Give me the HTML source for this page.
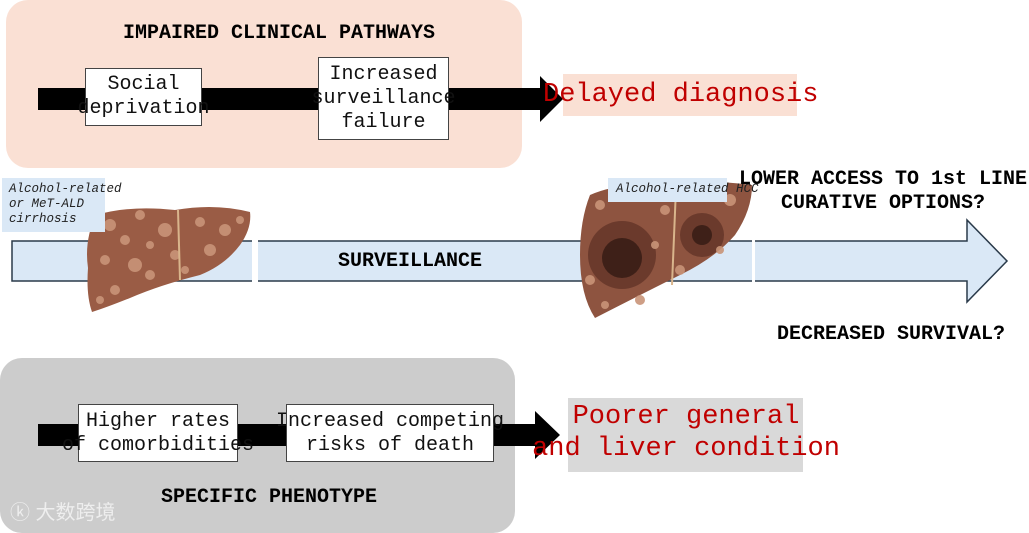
<!DOCTYPE html>
<html><head><meta charset="utf-8"><style>
body{margin:0;width:1029px;height:528px;background:#fff;position:relative;overflow:hidden;font-family:"Liberation Mono",monospace;}
.a{position:absolute;}
.box{position:absolute;background:#fff;border:1px solid #444;box-sizing:border-box;font-size:20px;line-height:24px;color:#111;white-space:nowrap;}
.box div{position:absolute;left:0;right:0;text-align:center;overflow:visible;}
.t{position:absolute;font-weight:bold;font-size:20px;color:#000;white-space:nowrap;}
</style></head><body>
<div class="a" style="left:6px;top:0;width:516px;height:168px;background:#fae0d4;border-radius:22px;"></div>
<div class="a" style="left:0;top:358px;width:515px;height:175px;background:#cccccc;border-radius:22px;"></div>
<svg class="a" style="left:0;top:0" width="1029" height="528">
<polygon points="38,88 540,88 540,76 563,99 540,122 540,110 38,110" fill="#000"/>
<polygon points="38,424 535,424 535,411 560,435 535,459 535,446 38,446" fill="#000"/>
<polygon points="12,241 967,241 967,220 1007,261 967,302 967,281 12,281" fill="#dae8f6" stroke="#2a3a4a" stroke-width="1.5"/>
<rect x="252" y="238" width="6" height="46" fill="#fff"/>
<rect x="752" y="238" width="3" height="46" fill="#fff"/>
<g>
<path d="M96,215 Q130,205 175,210 Q215,203 250,212 Q252,228 240,245 Q225,265 200,275 Q160,285 130,298 Q105,308 92,312 Q86,295 88,268 Q84,240 96,215Z" fill="#9a5c45"/>
<g fill="#c99478" opacity="0.9">
<circle cx="110" cy="225" r="6"/><circle cx="140" cy="215" r="5"/><circle cx="165" cy="230" r="7"/><circle cx="200" cy="222" r="5"/><circle cx="225" cy="230" r="6"/><circle cx="105" cy="260" r="5"/><circle cx="135" cy="265" r="7"/><circle cx="175" cy="255" r="5"/><circle cx="210" cy="250" r="6"/><circle cx="115" cy="290" r="5"/><circle cx="150" cy="275" r="5"/><circle cx="240" cy="220" r="4"/><circle cx="185" cy="270" r="4"/><circle cx="125" cy="240" r="5"/><circle cx="100" cy="300" r="4"/><circle cx="150" cy="245" r="4"/>
</g>
<path d="M178,210 L180,280" stroke="#d9b58c" stroke-width="2"/>
</g>
<g>
<path d="M590,195 Q620,182 660,186 Q700,178 752,185 Q752,210 735,235 Q715,258 680,275 Q640,295 595,318 Q580,295 580,255 Q580,220 590,195Z" fill="#8e5440"/>
<circle cx="622" cy="255" r="34" fill="#6b3a2c"/><circle cx="622" cy="258" r="20" fill="#3e2018"/>
<circle cx="702" cy="235" r="22" fill="#6b3a2c"/><circle cx="702" cy="235" r="10" fill="#3e2018"/>
<g fill="#c99478" opacity="0.9">
<circle cx="600" cy="205" r="5"/><circle cx="635" cy="195" r="6"/><circle cx="665" cy="210" r="5"/><circle cx="730" cy="200" r="6"/><circle cx="590" cy="280" r="5"/><circle cx="640" cy="300" r="5"/><circle cx="680" cy="270" r="5"/><circle cx="655" cy="245" r="4"/><circle cx="720" cy="250" r="4"/><circle cx="605" cy="305" r="4"/>
</g>
<path d="M676,188 L672,285" stroke="#d9b58c" stroke-width="2"/>
</g>
</svg>
<div class="t" style="left:123px;top:22px;">IMPAIRED CLINICAL PATHWAYS</div>
<div class="box" style="left:85px;top:68px;width:117px;height:58px;"><div style="top:4px">Social</div><div style="top:28px;left:-20px;right:-20px">deprivation</div></div>
<div class="box" style="left:318px;top:57px;width:131px;height:83px;"><div style="top:5px">Increased</div><div style="top:29px;left:-20px;right:-20px">surveillance</div><div style="top:53px">failure</div></div>
<div class="a" style="left:563px;top:74px;width:234px;height:42px;background:#fae0d4;"></div>
<div class="a" style="left:543px;top:80px;font-size:27px;color:#c00000;white-space:nowrap;">Delayed diagnosis</div>
<div class="a" style="left:2px;top:178px;width:103px;height:54px;background:#dae8f6;"></div>
<div class="a" style="left:9px;top:182px;font-size:12.5px;line-height:15px;font-style:italic;color:#222;white-space:nowrap;">Alcohol-related<br>or MeT-ALD<br>cirrhosis</div>
<div class="a" style="left:608px;top:178px;width:119px;height:24px;background:#dae8f6;"></div>
<div class="a" style="left:616px;top:182px;font-size:12.5px;font-style:italic;color:#222;white-space:nowrap;">Alcohol-related HCC</div>
<div class="t" style="left:338px;top:250px;">SURVEILLANCE</div>
<div class="t" style="left:733px;top:168px;text-align:center;width:300px;line-height:24px;">LOWER ACCESS TO 1st LINE<br>CURATIVE OPTIONS?</div>
<div class="t" style="left:777px;top:323px;">DECREASED SURVIVAL?</div>
<div class="box" style="left:78px;top:404px;width:160px;height:58px;"><div style="top:5px">Higher rates</div><div style="top:29px;left:-30px;right:-30px">of comorbidities</div></div>
<div class="box" style="left:286px;top:404px;width:208px;height:58px;"><div style="top:5px;left:-20px;right:-20px">Increased competing</div><div style="top:29px">risks of death</div></div>
<div class="a" style="left:568px;top:398px;width:235px;height:74px;background:#d9d9d9;"></div>
<div class="a" style="left:516px;top:401px;width:340px;text-align:center;font-size:27px;line-height:32px;color:#c00000;white-space:nowrap;">Poorer general<br>and liver condition</div>
<div class="t" style="left:161px;top:486px;">SPECIFIC PHENOTYPE</div>
<div class="a" style="left:10px;top:496px;font-size:20px;color:#eee;font-family:'Liberation Sans','Noto Sans CJK SC',sans-serif;">ⓚ 大数跨境</div>
</body></html>
